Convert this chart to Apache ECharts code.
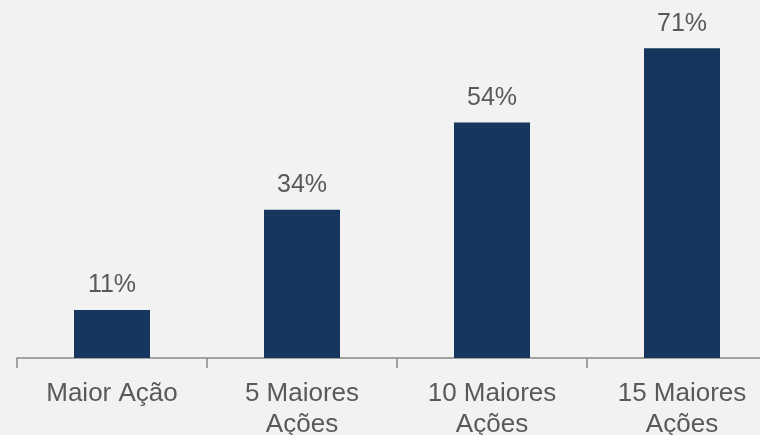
<!DOCTYPE html>
<html>
<head>
<meta charset="utf-8">
<script src="https://cdn.jsdelivr.net/npm/echarts@6/dist/echarts.min.js"></script>
<style>
    html, body { margin: 0; padding: 0; background: #f2f2f2; }
    #chart { width: 760px; height: 435px; }
</style>
</head>
<body>
<div id="chart"></div>
<script>
    // concentração da carteira
    var categories = ['Maior Ação', '5 Maiores\nAções', '10 Maiores\nAções', '15 Maiores\nAções'];
    var values = [11, 34, 54, 71];

    var chart = echarts.init(document.getElementById('chart'));
    var option = {
        backgroundColor: '#f2f2f2',
        animation: false,
        grid: {
            left: 17,
            top: 9,
            width: 760,
            height: 349,
            outerBoundsMode: 'none'
        },
        xAxis: {
            type: 'category',
            data: categories,
            axisLine: {
                show: true,
                lineStyle: { color: '#898989', width: 1.5 }
            },
            axisTick: {
                show: true,
                length: 10,
                lineStyle: { color: '#898989', width: 1.5 }
            },
            axisLabel: {
                color: '#595959',
                fontFamily: 'Liberation Sans, Arial, sans-serif',
                fontSize: 26,
                lineHeight: 31,
                margin: 20,
                interval: 0
            }
        },
        yAxis: {
            type: 'value',
            min: 0,
            max: 80,
            show: false
        },
        series: [{
            type: 'bar',
            data: values,
            barWidth: 76,
            itemStyle: { color: '#17365d' },
            label: {
                show: true,
                position: 'top',
                distance: 12,
                color: '#595959',
                fontFamily: 'Liberation Sans, Arial, sans-serif',
                fontSize: 25,
                formatter: '{c}%'
            }
        }]
    };
    chart.setOption(option);
</script>
</body>
</html>
